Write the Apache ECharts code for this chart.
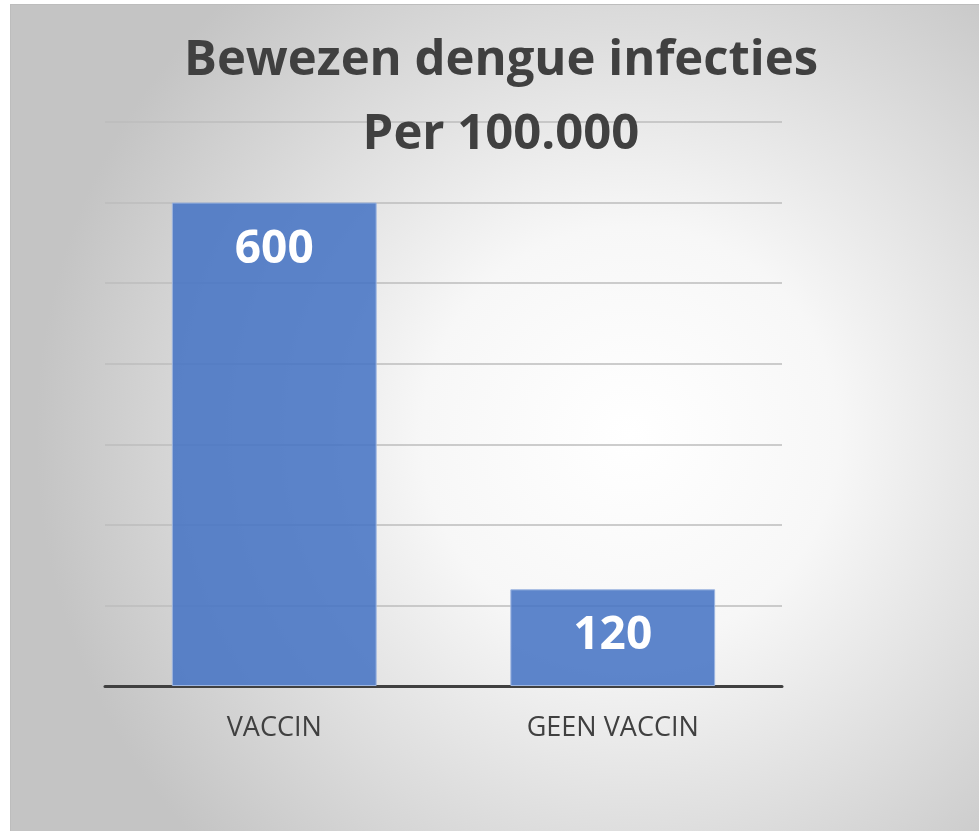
<!DOCTYPE html>
<html>
<head>
<meta charset="utf-8">
<script src="https://cdn.jsdelivr.net/npm/echarts@6/dist/echarts.min.js"></script>
<style>
  html, body { margin: 0; padding: 0; background: #fff; }
  #chart {
    position: absolute;
    left: 10px;
    top: 4px;
    width: 968px;
    height: 826px;
    border-left: 1px solid #bdbdbd;
    border-top: 1px solid #bdbdbd;
  }
</style>
</head>
<body>
<div id="chart"></div>
<script>
// data
const categories = ['VACCIN', 'GEEN VACCIN']
const infections = [600, 120]
const yTicks = [0, 100, 200, 300, 400, 500, 600, 700]

const chart = echarts.init(document.getElementById('chart'))

chart.setOption({
  backgroundColor: new echarts.graphic.RadialGradient(0.64, 0.52, 0.72, [
    { offset: 0, color: '#ffffff' },
    { offset: 0.35, color: '#f7f7f7' },
    { offset: 1, color: '#c4c4c4' }
  ]),
  title: {
    text: 'Bewezen dengue infecties\nPer 100.000',
    left: 490, // centre of the text, textAlign below
    top: 19,
    padding: 0,
    textAlign: 'center',
    textStyle: {
      fontFamily: 'Open Sans',
      fontWeight: 'bold',
      fontSize: 49,
      lineHeight: 74,
      color: '#404040'
    }
  },
  grid: {
    left: 94,
    top: 117,
    width: 677,
    height: 564
  },
  xAxis: {
    type: 'category',
    data: categories,
    axisTick: { show: false },
    axisLine: {
      lineStyle: { color: '#404040', width: 3 }
    },
    axisLabel: {
      fontFamily: 'Open Sans',
      fontSize: 27,
      color: '#404040',
      margin: 29
    }
  },
  yAxis: {
    type: 'value',
    min: yTicks[0],
    max: yTicks[yTicks.length - 1],
    interval: 100,
    axisLabel: { show: false },
    axisLine: { show: false },
    axisTick: { show: false },
    splitLine: {
      lineStyle: { color: '#bdbdbd', width: 1.5 }
    }
  },
  series: [{
    type: 'bar',
    data: infections,
    barCategoryGap: '39.5%',
    itemStyle: {
      color: 'rgba(68, 114, 196, 0.86)',
      borderColor: '#9db5e0',
      borderWidth: 1
    },
    label: {
      show: true,
      position: 'insideTop',
      distance: 24,
      fontFamily: 'Open Sans',
      fontWeight: 'bold',
      fontSize: 46,
      color: '#ffffff'
    }
  }]
})
</script>
</body>
</html>
